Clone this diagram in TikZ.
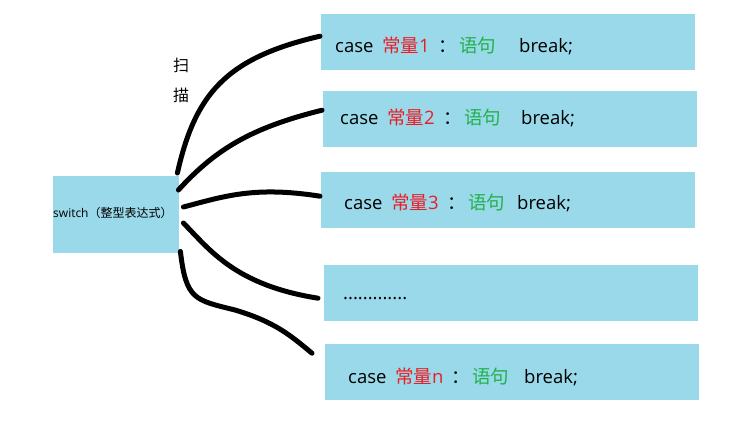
\documentclass[tikz,border=0pt]{standalone}
\usepackage{fontspec}
\setmainfont{Open Sans}
\newfontfamily\cjk{Noto Sans CJK SC}
\definecolor{boxfill}{HTML}{99D9EA}
\definecolor{cred}{HTML}{ED1C24}
\definecolor{cgreen}{HTML}{22B14C}
\newcommand\caseline[2]{\makebox[47pt][l]{case}\makebox[56pt][l]{\color{cred}{\cjk 常量}#1}\makebox[21pt][l]{\cjk ：}\makebox[#2][l]{\color{cgreen}\cjk 语句}break;}
\tikzset{
  box/.style={fill=boxfill, draw=none, anchor=north west, inner sep=0pt},
  casebox/.style={box, minimum width=374pt, minimum height=56pt},
  casetext/.style={anchor=west, inner sep=0pt, font=\fontsize{18.5}{21}\selectfont},
  link/.style={line width=5pt, line cap=round, black},
}
\begin{document}
\begin{tikzpicture}[x=1pt,y=-1pt]
\useasboundingbox (0,0) rectangle (737,432);
% switch box
\node[box, minimum width=126pt, minimum height=77pt] (sw) at (53,176) {};
\node[anchor=west, inner sep=0pt, font=\fontsize{12}{14}\selectfont] (swt) at (53,213) {switch{\cjk （整型表达式）}};
% scan label
\node[font=\cjk\fontsize{16}{18}\selectfont, inner sep=0pt] (sao) at (181,65) {扫};
\node[font=\cjk\fontsize{16}{18}\selectfont, inner sep=0pt] (miao) at (181,95) {描};
% case boxes
\node[casebox] (b1) at (321,14) {};
\node[casebox] (b2) at (323,91) {};
\node[casebox] (b3) at (321,172) {};
\node[casebox] (b4) at (324,265) {};
\node[casebox] (b5) at (325,344) {};
\node[casetext] (t1) at (335,46) {\caseline{1}{60pt}};
\node[casetext] (t2) at (340,118) {\caseline{2}{57pt}};
\node[casetext] (t3) at (344,203) {\caseline{3}{49pt}};
\node[casetext] (t4) at (343,299) {.............};
\node[casetext] (t5) at (348,377) {\caseline{n}{52pt}};
% connectors
\draw[link] ([xshift=-2pt,yshift=3pt]sw.north east) .. controls (195,95) and (225,58) .. ([xshift=-1pt,yshift=6pt]b1.west);
\draw[link] ([xshift=-1pt,yshift=-14pt]sw.north east) .. controls (215,150) and (250,128) .. ([xshift=-1pt,yshift=9pt]b2.west);
\draw[link] ([xshift=4pt,yshift=-31pt]sw.north east) .. controls (225,196) and (255,186) .. ([xshift=-1pt,yshift=4pt]b3.west);
\draw[link] ([xshift=4pt,yshift=-47pt]sw.north east) .. controls (210,250) and (235,285) .. ([xshift=-6pt,yshift=-5pt]b4.west);
\draw[link] ([xshift=1pt,yshift=2pt]sw.south east) .. controls (186,300) and (195,300) .. (235,310) .. controls (275,322) and (290,335) .. ([xshift=-13pt,yshift=19pt]b5.west);
\end{tikzpicture}
\end{document}
